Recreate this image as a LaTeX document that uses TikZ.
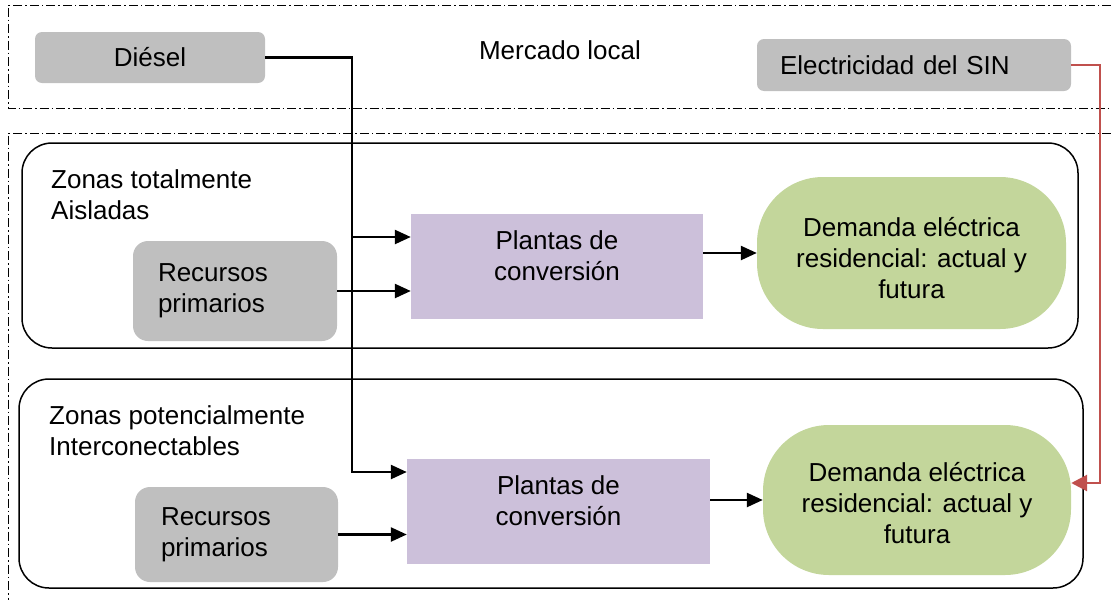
\documentclass[tikz,border=0pt]{standalone}
\usepackage{fontspec}
\setmainfont{Liberation Sans}
\usetikzlibrary{arrows.meta,calc}
\definecolor{boxgray}{HTML}{BFBFBF}
\definecolor{plantlilac}{HTML}{CCC0DA}
\definecolor{demgreen}{HTML}{C3D69B}
\definecolor{sinred}{HTML}{C0504D}
\tikzset{
  txt/.style={inner sep=0pt, font=\fontsize{26pt}{31pt}\selectfont},
  graybox/.style={fill=boxgray, draw=none, rounded corners=7pt, txt},
  resbox/.style={fill=boxgray, draw=none, rounded corners=15pt, txt, align=left},
  plantbox/.style={fill=plantlilac, draw=none},
  dembox/.style={fill=demgreen, draw=none, rounded corners=66pt},
  zone/.style={draw=black, line width=1.5pt, rounded corners=30pt},
  market/.style={draw=black, line width=1pt, dash pattern=on 9pt off 3pt on 1.5pt off 3pt},
  arr/.style={draw=black, line width=2.4pt, -{Triangle[length=16pt,width=14pt]}},
  redarr/.style={draw=sinred, line width=2.8pt, -{Triangle[length=16pt,width=16pt]}}
}
\begin{document}
\begin{tikzpicture}[x=1pt,y=-1pt]
\useasboundingbox (0,0) rectangle (1111,600);

% dash-dot frames: local market and the zones
\draw[market] (1111,5) -- (8,5) -- (8,108) -- (1111,108);
\draw[market] (1111,133) -- (8,133) -- (8,600);

% zone frames
\draw[zone] (22,143) rectangle (1078,348);
\draw[zone] (19,379) rectangle (1083,588);

% market row
\node[graybox, minimum width=230pt, minimum height=51pt] (dsl) at (150,57.5) {Di\'esel};
\node[txt] (mkt) at (560,50) {Mercado local};
\node[graybox, minimum width=314pt, minimum height=52pt, inner xsep=23pt, text width=268pt, align=left] (sin) at (914,65) {Electricidad del SIN};

% zone labels
\node[txt, anchor=north west, align=left] (z1) at (51,169) {Zonas totalmente\\Aisladas};
\node[txt, anchor=north west, align=left] (z2) at (49,405) {Zonas potencialmente\\Interconectables};

% totally isolated zones
\node[resbox, minimum width=204pt, minimum height=100pt, inner xsep=25pt, text width=154pt] (r1) at (235,291) {Recursos\\primarios};
\node[plantbox, minimum width=292pt, minimum height=105pt] (p1) at (557,266.5) {};
\node[txt, align=center] (p1t) at ([yshift=11pt]p1.center) {Plantas de\\conversi\'on};
\node[dembox, minimum width=309pt, minimum height=152pt] (d1) at (911.5,253) {};
\node[txt, align=center] (d1t) at ([yshift=-5pt]d1.center) {Demanda el\'ectrica\\residencial: actual y\\futura};

% potentially interconnectable zones
\node[resbox, minimum width=203pt, minimum height=95pt, inner xsep=26pt, text width=151pt] (r2) at (236.5,534.5) {Recursos\\primarios};
\node[plantbox, minimum width=303pt, minimum height=105pt] (p2) at (558.5,511.5) {};
\node[txt, align=center] (p2t) at ([yshift=11pt]p2.center) {Plantas de\\conversi\'on};
\node[dembox, minimum width=308pt, minimum height=150pt] (d2) at (917,500) {};
\node[txt, align=center] (d2t) at ([yshift=-3pt]d2.center) {Demanda el\'ectrica\\residencial: actual y\\futura};

% diesel supply line with its branch
\coordinate (bend) at (352,472);
\coordinate (branch) at (352,237);
\draw[arr] (dsl.east) -| (bend) -- (bend -| p2.west);
\draw[arr] (branch) -- (branch -| p1.west);

% primary resources to plants
\draw[arr] (r1.east) -- (r1.east -| p1.west);
\draw[arr] (r2.east) -- (r2.east -| p2.west);

% plants to demand
\draw[arr] (p1.east |- d1.west) -- (d1.west);
\draw[arr] (p2.east |- d2.west) -- (d2.west);

% grid electricity to interconnectable demand
\coordinate (redc) at (1100,483);
\draw[redarr] (sin.east) -| (redc) -- (d2.east |- redc);
\end{tikzpicture}
\end{document}
